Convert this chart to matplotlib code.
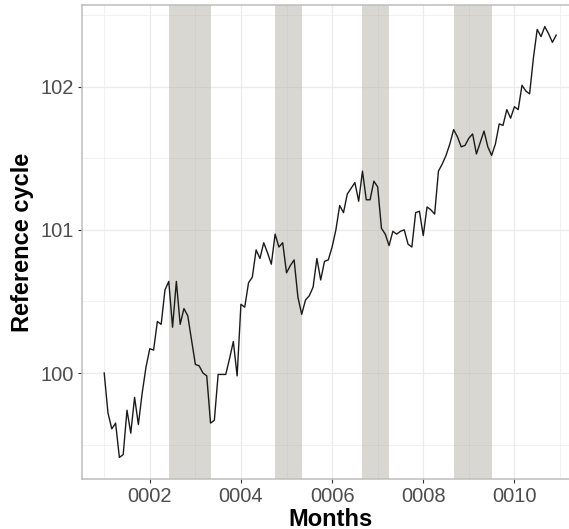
import matplotlib.pyplot as plt
import numpy as np

plt.rcParams['font.family'] = ['Liberation Sans', 'DejaVu Sans']

# monthly reference cycle, Jan 0001 .. Dec 0010
ref_cycle = [
    100.00, 99.72, 99.61, 99.65, 99.41, 99.43, 99.74, 99.58, 99.83, 99.64, 99.86, 100.04,
    100.17, 100.16, 100.36, 100.34, 100.58, 100.64, 100.32, 100.64, 100.34, 100.45, 100.40, 100.23,
    100.06, 100.05, 100.00, 99.98, 99.65, 99.67, 99.99, 99.99, 99.99, 100.10, 100.22, 99.98,
    100.48, 100.46, 100.63, 100.67, 100.86, 100.80, 100.91, 100.84, 100.76, 100.97, 100.88, 100.91,
    100.70, 100.75, 100.79, 100.53, 100.41, 100.51, 100.54, 100.60, 100.80, 100.65, 100.78, 100.79,
    100.88, 101.00, 101.17, 101.12, 101.25, 101.29, 101.33, 101.20, 101.41, 101.21, 101.21, 101.34,
    101.30, 101.01, 100.97, 100.89, 100.99, 100.97, 100.99, 101.00, 100.90, 100.88, 101.12, 101.13,
    100.96, 101.16, 101.14, 101.11, 101.41, 101.46, 101.52, 101.60, 101.70, 101.65, 101.58, 101.59,
    101.64, 101.67, 101.53, 101.61, 101.69, 101.58, 101.52, 101.60, 101.74, 101.73, 101.84, 101.78,
    101.86, 101.84, 102.01, 101.97, 101.95, 102.20, 102.40, 102.35, 102.42, 102.37, 102.31, 102.36,
]
start_year = 1

# turning points (year, month)
peaks = [(2, 6), (4, 10), (6, 9), (8, 9)]
troughs = [(3, 5), (5, 5), (7, 4), (9, 7)]

year_ticks = [2, 4, 6, 8, 10]
year_labels = ['%04d' % y for y in year_ticks]


def to_year(ym):
    return ym[0] + (ym[1] - 1) / 12


y = np.array(ref_cycle)
x = start_year + np.arange(len(y)) / 12

fig = plt.figure(figsize=(5.69, 5.29), dpi=100)
ax = fig.add_axes([0.1434, 0.0945, 0.8738, 0.896])

for p, t in zip(peaks, troughs):
    ax.axvspan(to_year(p), to_year(t), color='#b3b1a7', alpha=0.5, lw=0, zorder=1)

ax.plot(x, y, color='#1a1a1a', lw=1.0, zorder=3)

# 5% padding on both axes
xr = x.max() - x.min()
yr = y.max() - y.min()
ax.set_xlim(x.min() - 0.05 * xr, x.max() + 0.05 * xr)
ax.set_ylim(y.min() - 0.05 * yr, y.max() + 0.05 * yr)

ax.set_xticks(year_ticks)
ax.set_xticklabels(year_labels)
ax.set_xticks([1, 3, 5, 7, 9, 11], minor=True)
ax.set_yticks([100, 101, 102])
ax.set_yticks([99.5, 100.5, 101.5, 102.5], minor=True)

ax.grid(which='major', color='#ebebeb', lw=0.9, zorder=0)
ax.grid(which='minor', color='#ebebeb', lw=0.5, zorder=0)
ax.set_axisbelow(True)

for side in ['left', 'bottom', 'top', 'right']:
    ax.spines[side].set_color('#bdbdbd')
    ax.spines[side].set_linewidth(1.1)

ax.tick_params(which='major', length=3, width=0.8, color='#333333',
               labelcolor='#4d4d4d', labelsize=14.5, pad=2.5)
ax.tick_params(which='minor', length=0)

ax.set_xlabel('Months', fontsize=17, fontweight='bold', labelpad=1.5)
ax.set_ylabel('Reference cycle', fontsize=17, fontweight='bold', labelpad=4.5)

fig.savefig('out.png', dpi=100)
